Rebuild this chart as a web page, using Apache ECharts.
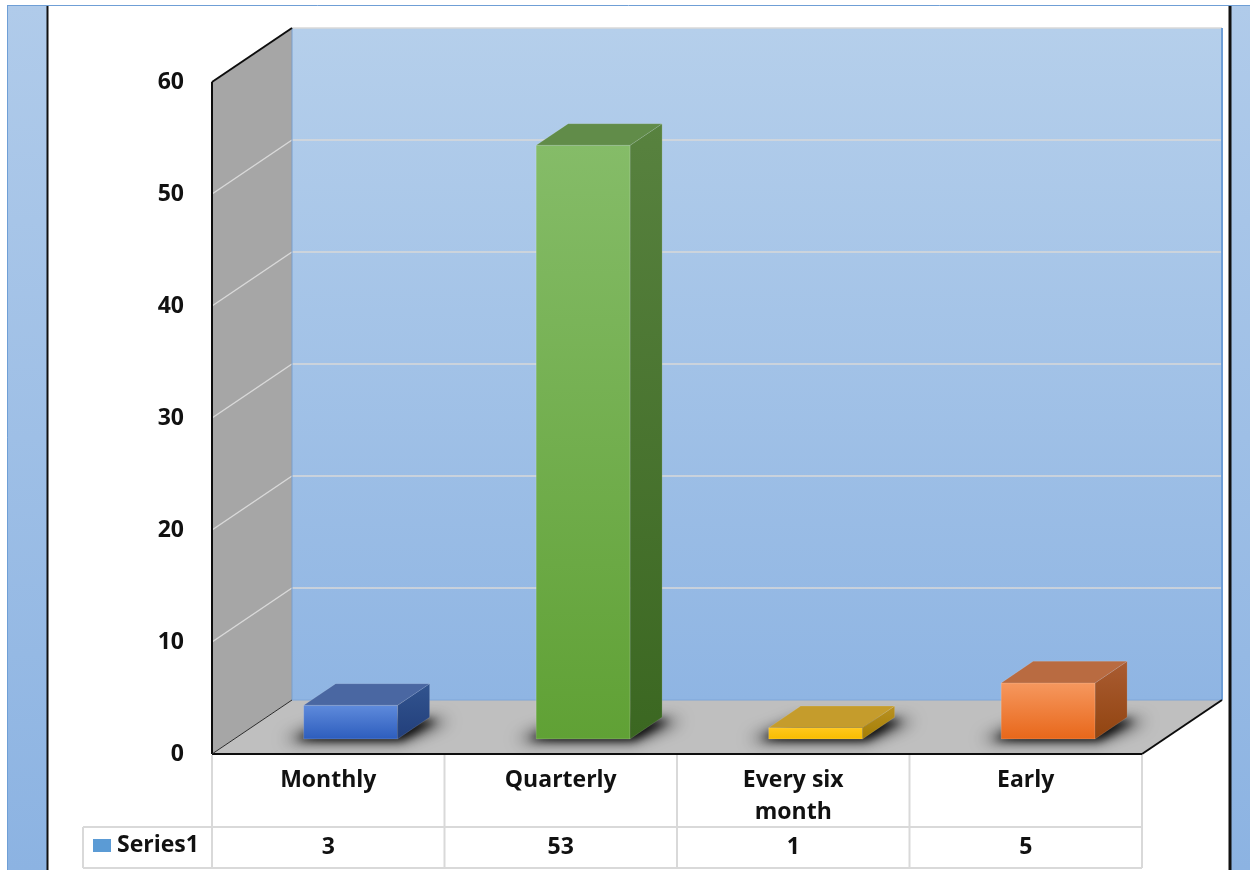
<!DOCTYPE html>
<html>
<head>
<meta charset="utf-8">
<script src="https://cdn.jsdelivr.net/npm/echarts@6/dist/echarts.min.js"></script>
<style>
  html, body { margin: 0; padding: 0; background: #ffffff; }
  #chart { width: 1250px; height: 870px; }
</style>
</head>
<body>
<div id="chart"></div>
<script>
// ---- data ----
const categories = ['Monthly', 'Quarterly', 'Every six\nmonth', 'Early'];
const values = [3, 53, 1, 5];
const seriesName = 'Series1';
const yMin = 0;
const yMax = 60;
const yStep = 10;

// ---- look ----
const FONT = '"Open Sans", Lato, "Liberation Sans", sans-serif';
const FONT_SIZE = 23;
const DEPTH = [80, -54];          // oblique depth vector of the 3D box
const BAR_DEPTH = [0.28, 0.68];   // front / back of each bar, as a fraction of depth
const BAR_WIDTH = 0.404;          // bar width as a fraction of the category band
const TABLE_ROW1 = 73;            // category row height below the floor edge
const TABLE_ROW2 = 41;            // value row height
const LEGEND_CELL_LEFT = 83;
const FAR = 4000;                 // shadow casters are drawn off-canvas, only their blur lands on the floor

const faces = [
  { front: ['#5f8bdc', '#2d5dbd'], side: ['#32548f', '#223f7b'], top: '#4a67a2' },
  { front: ['#85bc68', '#60a135'], side: ['#58823f', '#3b6721'], top: '#618c49' },
  { front: ['#ffc81e', '#f8bc00'], side: ['#b99122', '#a57e05'], top: '#c59c2c' },
  { front: ['#f6985f', '#e8671a'], side: ['#aa5c32', '#914410'], top: '#b96b41' }
];

function vgrad(a, b) {
  return new echarts.graphic.LinearGradient(0, 0, 0, 1, [
    { offset: 0, color: a }, { offset: 1, color: b }
  ]);
}

// walls, floor, wall grid lines and the data-table rules
function renderFrame(params, api) {
  const cs = params.coordSys;
  const x0 = cs.x, x1 = cs.x + cs.width;
  const yb = api.coord([0, yMin])[1];
  const yt = api.coord([0, yMax])[1];
  const dx = DEPTH[0], dy = DEPTH[1];
  const band = api.size([1, 0])[0];
  const c = [];

  c.push({ type: 'polygon', shape: { points: [[x0 + dx, yt + dy], [x1 + dx, yt + dy], [x1 + dx, yb + dy], [x0 + dx, yb + dy]] },
           style: { fill: vgrad('#b5cfeb', '#8fb5e3') } });
  c.push({ type: 'polygon', shape: { points: [[x0, yt], [x0 + dx, yt + dy], [x0 + dx, yb + dy], [x0, yb]] },
           style: { fill: '#a6a6a6' } });
  c.push({ type: 'polygon', shape: { points: [[x0, yb], [x0 + dx, yb + dy], [x1 + dx, yb + dy], [x1, yb]] },
           style: { fill: '#bfbfbf' } });

  for (let v = yMin + yStep; v <= yMax; v += yStep) {
    const y = api.coord([0, v])[1];
    c.push({ type: 'line', shape: { x1: x0, y1: y, x2: x0 + dx, y2: y + dy }, style: { stroke: '#d9d9d9', lineWidth: 1.5 } });
    c.push({ type: 'line', shape: { x1: x0 + dx, y1: y + dy, x2: x1 + dx, y2: y + dy }, style: { stroke: '#d9d9d9', lineWidth: 1.5 } });
  }

  // back wall borders
  c.push({ type: 'line', shape: { x1: x1 + dx, y1: yt + dy, x2: x1 + dx, y2: yb + dy }, style: { stroke: '#6c9dd7', lineWidth: 2 } });
  c.push({ type: 'line', shape: { x1: x0 + dx, y1: yb + dy, x2: x1 + dx, y2: yb + dy }, style: { stroke: '#7ea6d8', lineWidth: 1 } });
  c.push({ type: 'line', shape: { x1: x0 + dx, y1: yt + dy, x2: x0 + dx, y2: yb + dy }, style: { stroke: '#7a9fcd', lineWidth: 1 } });

  // black box edges
  const edge = { stroke: '#0d0d0d', lineWidth: 2 };
  c.push({ type: 'line', shape: { x1: x0, y1: yt, x2: x0, y2: yb }, style: edge });
  c.push({ type: 'line', shape: { x1: x0, y1: yt, x2: x0 + dx, y2: yt + dy }, style: edge });
  c.push({ type: 'line', shape: { x1: x0, y1: yb, x2: x1, y2: yb }, style: edge });
  c.push({ type: 'line', shape: { x1: x1, y1: yb, x2: x1 + dx, y2: yb + dy }, style: edge });
  c.push({ type: 'line', shape: { x1: x0, y1: yb, x2: x0 + dx, y2: yb + dy }, style: { stroke: '#2a2a2a', lineWidth: 1 } });

  // data table rules
  const rule = { stroke: '#d9d9d9', lineWidth: 2 };
  const yr1 = yb + TABLE_ROW1, yr2 = yr1 + TABLE_ROW2;
  for (let k = 0; k <= categories.length; k++) {
    const x = x0 + k * band;
    c.push({ type: 'line', shape: { x1: x, y1: yb + 1, x2: x, y2: yr2 }, style: rule });
  }
  c.push({ type: 'line', shape: { x1: LEGEND_CELL_LEFT, y1: yr1, x2: x1, y2: yr1 }, style: rule });
  c.push({ type: 'line', shape: { x1: LEGEND_CELL_LEFT, y1: yr2, x2: x1, y2: yr2 }, style: rule });
  c.push({ type: 'line', shape: { x1: LEGEND_CELL_LEFT, y1: yr1, x2: LEGEND_CELL_LEFT, y2: yr2 }, style: rule });

  return { type: 'group', children: c };
}

// soft floor shadow: the caster sits off-canvas and only its blurred shadow is seen
function floorShadow(L, R, B, sx, sy, spread, blur, alpha) {
  const pts = [[L - spread, B + 1], [R + 4, B + 1], [R + sx + spread, B + sy + 3], [L + sx, B + sy + 3]]
    .map(p => [p[0] - FAR, p[1]]);
  return {
    type: 'polygon', shape: { points: pts },
    style: { fill: '#000', shadowBlur: blur, shadowColor: 'rgba(0,0,0,' + alpha + ')', shadowOffsetX: FAR }
  };
}

// one 3D box per category
function renderBar(params, api) {
  const i = api.value(0), v = api.value(1);
  const base = api.coord([i, yMin]);
  const top = api.coord([i, v]);
  const band = api.size([1, 0])[0];
  const w = band * BAR_WIDTH;
  const fx = DEPTH[0] * BAR_DEPTH[0], fy = DEPTH[1] * BAR_DEPTH[0];
  const sx = DEPTH[0] * (BAR_DEPTH[1] - BAR_DEPTH[0]), sy = DEPTH[1] * (BAR_DEPTH[1] - BAR_DEPTH[0]);
  const L = base[0] - w / 2 + fx, R = base[0] + w / 2 + fx;
  const B = base[1] + fy, T = top[1] + fy;
  const f = faces[i % faces.length];
  return {
    type: 'group',
    children: [
      floorShadow(L, R, B, sx, sy, 20, 16, 0.85),
      floorShadow(L, R, B, sx, sy, 8, 8, 0.8),
      { type: 'rect', shape: { x: L, y: T, width: R - L, height: B - T },
        style: { fill: vgrad(f.front[0], f.front[1]), stroke: 'rgba(255,255,255,0.25)', lineWidth: 0.6 } },
      { type: 'polygon', shape: { points: [[R, T], [R + sx, T + sy], [R + sx, B + sy], [R, B]] },
        style: { fill: vgrad(f.side[0], f.side[1]), stroke: 'rgba(255,255,255,0.2)', lineWidth: 0.6 } },
      { type: 'polygon', shape: { points: [[L, T], [L + sx, T + sy], [R + sx, T + sy], [R, T]] },
        style: { fill: f.top, stroke: 'rgba(255,255,255,0.2)', lineWidth: 0.6 } }
    ]
  };
}

// value row of the data table
function renderValue(params, api) {
  const i = api.value(0), v = api.value(1);
  const base = api.coord([i, yMin]);
  return {
    type: 'text',
    x: base[0],
    y: base[1] + TABLE_ROW1 + TABLE_ROW2 / 2,
    style: { text: String(v), fontFamily: FONT, fontWeight: 'bold', fontSize: FONT_SIZE, fill: '#111', align: 'center', verticalAlign: 'middle' }
  };
}

const rows = values.map((v, i) => [i, v]);

const chart = echarts.init(document.getElementById('chart'), null, { renderer: 'canvas' });
chart.setOption({
  animation: false,
  backgroundColor: '#ffffff',
  graphic: [
    { type: 'rect', shape: { x: 7, y: 5, width: 40, height: 865 }, style: { fill: vgrad('#b0cbea', '#8cb3e2') } },
    { type: 'rect', shape: { x: 1231, y: 5, width: 19, height: 865 }, style: { fill: vgrad('#b0cbea', '#8cb3e2') } },
    { type: 'line', shape: { x1: 7, y1: 5.5, x2: 1250, y2: 5.5 }, style: { stroke: '#6f9fd6', lineWidth: 1 } },
    { type: 'line', shape: { x1: 7.5, y1: 5, x2: 7.5, y2: 870 }, style: { stroke: '#6f9fd6', lineWidth: 1 } },
    { type: 'line', shape: { x1: 47.5, y1: 6, x2: 47.5, y2: 870 }, style: { stroke: '#111', lineWidth: 2 } },
    { type: 'line', shape: { x1: 1230, y1: 6, x2: 1230, y2: 870 }, style: { stroke: '#111', lineWidth: 3 } }
  ],
  grid: { left: 212, right: 108, top: 82, bottom: 116, containLabel: false },
  legend: {
    data: [seriesName],
    left: 93, top: 834, padding: 0,
    icon: 'rect', itemWidth: 18, itemHeight: 13, itemGap: 6,
    selectedMode: false,
    textStyle: { fontFamily: FONT, fontWeight: 'bold', fontSize: FONT_SIZE, color: '#111', padding: [0, 0, 0, 1] }
  },
  xAxis: {
    type: 'category',
    data: categories,
    axisLine: { show: false },
    axisTick: { show: false },
    splitLine: { show: false },
    axisLabel: { fontFamily: FONT, fontWeight: 'bold', fontSize: FONT_SIZE, color: '#111', lineHeight: 32, margin: 10, interval: 0 }
  },
  yAxis: {
    type: 'value',
    min: yMin, max: yMax, interval: yStep,
    axisLine: { show: false },
    axisTick: { show: false },
    splitLine: { show: false },
    axisLabel: { fontFamily: FONT, fontWeight: 'bold', fontSize: FONT_SIZE, color: '#111', margin: 28 }
  },
  series: [
    { type: 'custom', name: 'frame', data: [[0, 0]], renderItem: renderFrame, z: 1, silent: true, clip: false, tooltip: { show: false } },
    { type: 'custom', name: seriesName, data: rows, renderItem: renderBar, z: 3, clip: false, itemStyle: { color: '#5b9bd5' } },
    { type: 'custom', name: 'table', data: rows, renderItem: renderValue, z: 3, clip: false, silent: true }
  ]
});
</script>
</body>
</html>
